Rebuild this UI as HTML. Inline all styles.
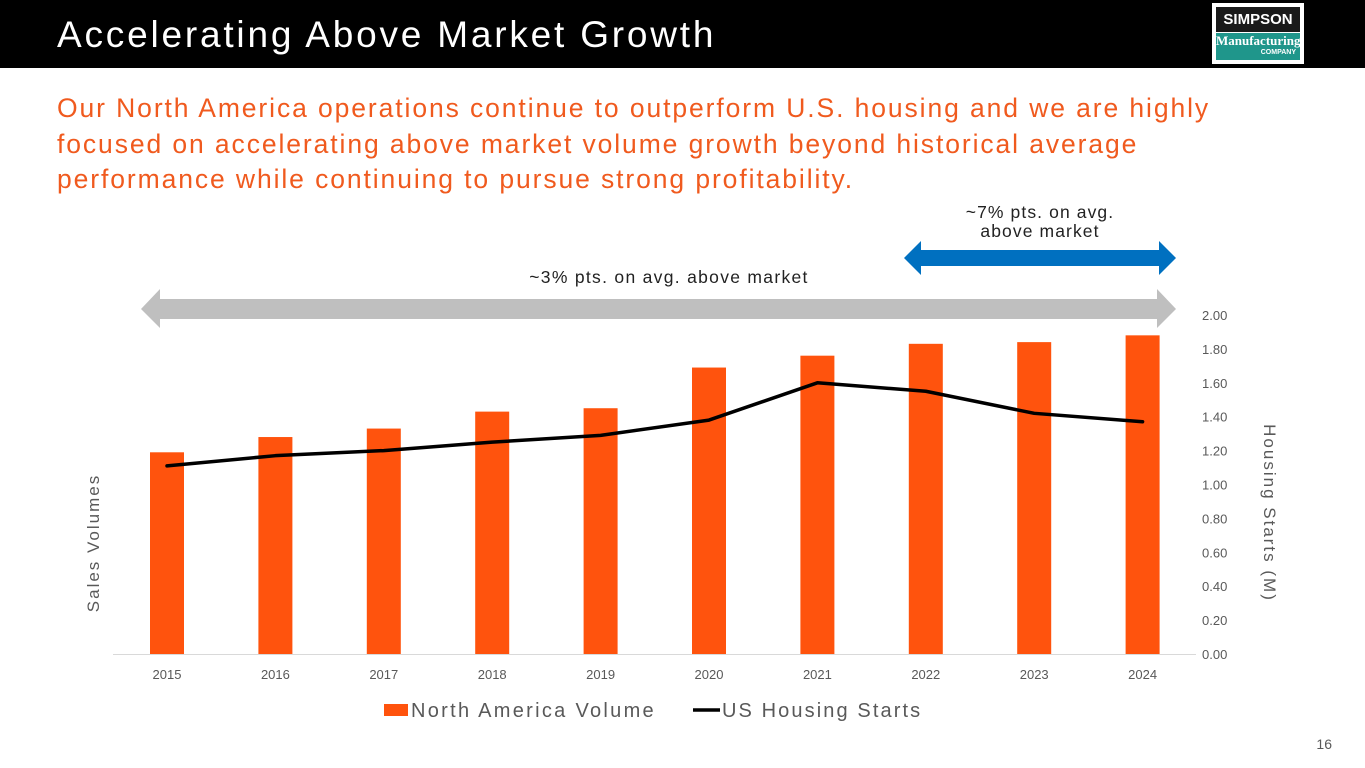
<!DOCTYPE html>
<html><head><meta charset="utf-8"><style>
body{margin:0;width:1365px;height:768px;background:#fff;font-family:"Liberation Sans",sans-serif;overflow:hidden;position:relative}
.hdr{position:absolute;left:0;top:0;width:1365px;height:68px;background:#000}
.title{position:absolute;left:57px;top:14px;color:#fff;font-size:37px;letter-spacing:2.8px;white-space:nowrap}
.sub{position:absolute;left:57px;top:91px;color:#F05A1E;font-size:26.5px;line-height:35.5px;letter-spacing:1.9px;white-space:nowrap}
.logo{position:absolute;left:1212px;top:3px;width:92px;height:61px;background:#fff}
</style></head><body>
<div class="hdr"></div>
<div class="title">Accelerating Above Market Growth</div>
<div class="logo">
 <div style="position:absolute;left:4px;top:4px;width:84px;height:25px;background:#1a1a1a;color:#fff;font-weight:bold;font-size:15px;text-align:center;line-height:25px">SIMPSON</div>
 <div style="position:absolute;left:4px;top:30px;width:84px;height:27px;background:#1f968b;color:#fff;font-family:'Liberation Serif',serif;font-weight:bold;font-size:13px;text-align:center;line-height:16px">Manufacturing<div style="font-family:'Liberation Sans';font-size:7px;text-align:right;padding-right:4px;line-height:8px">COMPANY</div></div>
</div>
<div class="sub">Our North America operations continue to outperform U.S. housing and we are highly<br>focused on accelerating above market volume growth beyond historical average<br>performance while continuing to pursue strong profitability.</div>
<svg id="chart" width="1365" height="768" style="position:absolute;left:0;top:0"></svg>
<script>
const categories=["2015","2016","2017","2018","2019","2020","2021","2022","2023","2024"];
const volumes=[1.19,1.28,1.33,1.43,1.45,1.69,1.76,1.83,1.84,1.88];
const starts=[1.11,1.17,1.20,1.25,1.29,1.38,1.60,1.55,1.42,1.37];
const ticks=[0,0.2,0.4,0.6,0.8,1.0,1.2,1.4,1.6,1.8,2.0];
const NS="http://www.w3.org/2000/svg",svg=document.getElementById('chart');
const x=i=>167+i*108.4, y=v=>654-v*169.5;
function mk(t,a,txt){const e=document.createElementNS(NS,t);for(const k in a)e.setAttribute(k,a[k]);if(txt!=null)e.textContent=txt;svg.appendChild(e);return e;}
let g=mk('polygon',{points:"141,309 160,289 160,299 1157,299 1157,289 1176,309 1157,328 1157,319 160,319 160,328",fill:"#BFBFBF"});

let b=mk('polygon',{points:"904,258 921,241 921,250 1159,250 1159,241 1176,258 1159,275 1159,266 921,266 921,275",fill:"#0070C0"});

let t1=mk('text',{x:669,y:283,'text-anchor':'middle','font-size':17.5,'letter-spacing':1.3,fill:'#222'},'~3% pts. on avg. above market');

let t2=mk('text',{x:1040,y:218,'text-anchor':'middle','font-size':17.5,'letter-spacing':1.1,fill:'#222'},'~7% pts. on avg.');

let t3=mk('text',{x:1040,y:237,'text-anchor':'middle','font-size':17.5,'letter-spacing':1.1,fill:'#222'},'above market');

let ax=mk('line',{x1:113,x2:1196,y1:654.5,y2:654.5,stroke:'#D9D9D9'});

ticks.forEach(v=>{const e=mk('text',{x:1202,y:y(v)+5,'font-size':13,fill:'#595959'},v.toFixed(2));
});
categories.forEach((c,i)=>{const e=mk('text',{x:x(i),y:679,'text-anchor':'middle','font-size':13,fill:'#595959'},c);

const r=mk('rect',{x:x(i)-17,y:y(volumes[i]),width:34,height:654-y(volumes[i]),fill:'#FF530D'});
});
const ln=mk('polyline',{points:starts.map((v,i)=>x(i)+','+y(v)).join(' '),fill:'none',stroke:'#000','stroke-width':3.5,'stroke-linejoin':'round','stroke-linecap':'round'});

let yl=mk('text',{transform:'translate(99,543) rotate(-90)','text-anchor':'middle','font-size':17,'letter-spacing':2,fill:'#595959'},'Sales Volumes');

let yr=mk('text',{transform:'translate(1264,513) rotate(90)','text-anchor':'middle','font-size':17,'letter-spacing':2,fill:'#595959'},'Housing Starts (M)');

let l1=mk('rect',{x:384,y:704,width:24,height:12,fill:'#FF530D'});

let l1t=mk('text',{x:411,y:717,'font-size':20,'letter-spacing':2.3,fill:'#595959'},'North America Volume');

let l2=mk('line',{x1:693,x2:720,y1:710,y2:710,stroke:'#000','stroke-width':3.5});

let l2t=mk('text',{x:722,y:717,'font-size':20,'letter-spacing':2.1,fill:'#595959'},'US Housing Starts');

let pn=mk('text',{x:1332,y:749,'text-anchor':'end','font-size':14,fill:'#595959'},'16');

</script>
</body></html>
